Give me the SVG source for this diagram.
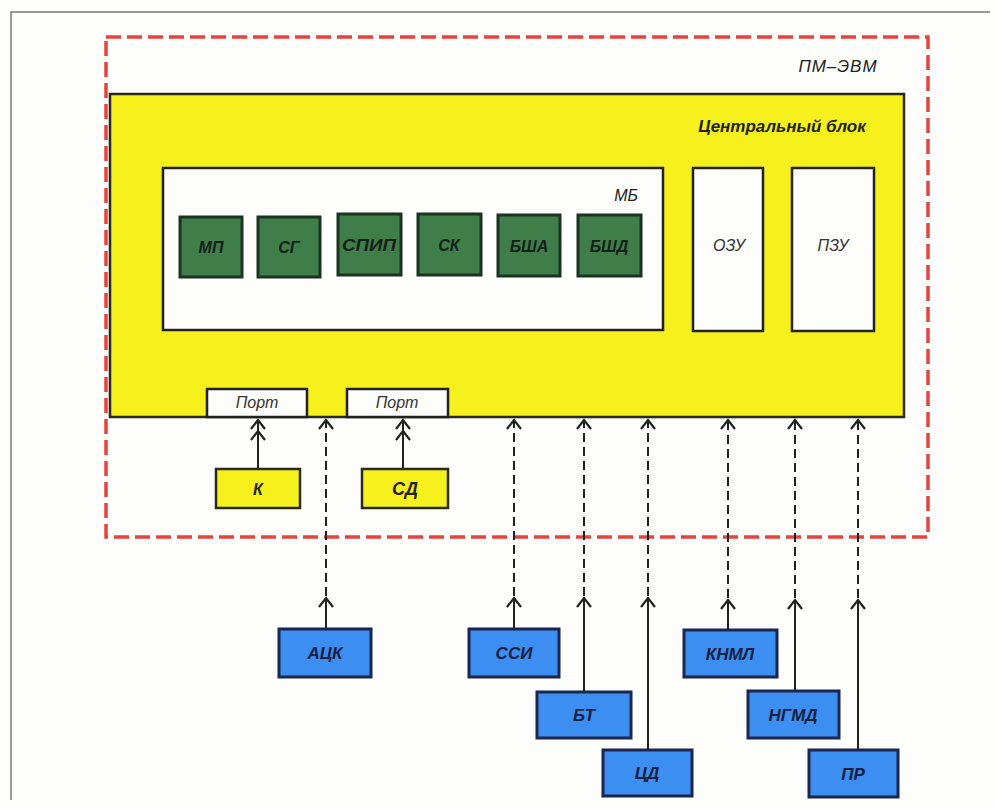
<svg xmlns="http://www.w3.org/2000/svg" width="996" height="809" viewBox="0 0 996 809">
<style>
text{font-family:"Liberation Sans",Arial,sans-serif;font-style:italic;text-anchor:middle;dominant-baseline:central}
.b{font-weight:bold}
.g rect{fill:#3f7e48;stroke:#1c3322;stroke-width:3}
.g text{font-weight:bold;font-size:16px;fill:#15201a}
.u rect{fill:#3c8ef0;stroke:#1a2650;stroke-width:3}
.u text{font-weight:bold;font-size:17px;fill:#172040}
.y rect{fill:#f6f01c;stroke:#2a2a1a;stroke-width:2.5}
.w{fill:#fdfdfb;stroke:#222;stroke-width:2.5}
.sol{stroke:#222;stroke-width:2;fill:none}
.dsh{stroke:#222;stroke-width:2;fill:none;stroke-dasharray:9 5}
</style>
<defs>
<marker id="chev" markerUnits="userSpaceOnUse" orient="auto" refX="0" refY="0" markerWidth="20" markerHeight="20" viewBox="-12 -10 20 20" overflow="visible">
<path d="M-9,-7 L0,0 L-9,7" fill="none" stroke="#222" stroke-width="2.2"/>
</marker>
</defs>
<rect width="996" height="809" fill="#fdfdfb"/>
<path d="M11,800 V12 H990" fill="none" stroke="#777" stroke-width="1.5"/>

<g id="pm-evm">
<rect x="106" y="37" width="822" height="500" fill="none" stroke="#e5433b" stroke-width="3.5" stroke-dasharray="15 6"/>
<text x="838" y="66" font-size="17" letter-spacing="1" fill="#222">ПМ–ЭВМ</text>
</g>

<g id="central" class="y">
<rect x="110" y="94" width="794" height="323"/>
<text class="b" x="782" y="126" font-size="17" fill="#222">Центральный блок</text>
</g>

<g id="mb">
<rect class="w" x="163" y="168" width="500" height="162"/>
<text x="626" y="195" font-size="16" fill="#222">МБ</text>
</g>
<g id="mp" class="g"><rect x="180" y="217" width="62" height="60"/><text x="211" y="247">МП</text></g>
<g id="sg" class="g"><rect x="258" y="217" width="62" height="60"/><text x="289" y="247">СГ</text></g>
<g id="spip" class="g"><rect x="338" y="214" width="63" height="61"/><text x="369" y="245" textLength="54" lengthAdjust="spacingAndGlyphs">СПИП</text></g>
<g id="sk" class="g"><rect x="418" y="214" width="63" height="61"/><text x="449" y="245">СК</text></g>
<g id="bsha" class="g"><rect x="498" y="215" width="62" height="61"/><text x="529" y="246">БША</text></g>
<g id="bshd" class="g"><rect x="578" y="215" width="63" height="61"/><text x="609" y="246">БШД</text></g>

<g id="ozu"><rect class="w" x="693" y="168" width="70" height="163"/><text x="729" y="245" font-size="16" fill="#333">ОЗУ</text></g>
<g id="pzu"><rect class="w" x="792" y="168" width="82" height="163"/><text x="833" y="245" font-size="16" fill="#333">ПЗУ</text></g>

<g id="port1"><rect class="w" x="207" y="389" width="100" height="28" stroke-width="2"/><text x="257" y="402" font-size="16" fill="#333">Порт</text></g>
<g id="port2"><rect class="w" x="347" y="389" width="101" height="28" stroke-width="2"/><text x="397" y="402" font-size="16" fill="#333">Порт</text></g>

<g id="k" class="y"><rect x="216" y="469" width="84" height="39"/><text class="b" x="258" y="489" font-size="16" fill="#222">К</text></g>
<g id="sd" class="y"><rect x="362" y="469" width="86" height="39"/><text class="b" x="405" y="489" font-size="18" fill="#222">СД</text></g>

<g id="ack" class="u"><rect x="279" y="629" width="92" height="48"/><text x="325" y="653">АЦК</text></g>
<g id="ssi" class="u"><rect x="469" y="629" width="90" height="48"/><text x="514" y="653">ССИ</text></g>
<g id="bt" class="u"><rect x="537" y="692" width="94" height="46"/><text x="584" y="715">БТ</text></g>
<g id="cd" class="u"><rect x="603" y="750" width="89" height="46"/><text x="647" y="773">ЦД</text></g>
<g id="knml" class="u"><rect x="684" y="630" width="93" height="47"/><text x="730" y="654">КНМЛ</text></g>
<g id="ngmd" class="u"><rect x="748" y="691" width="91" height="47"/><text x="793" y="715">НГМД</text></g>
<g id="pr" class="u"><rect x="809" y="750" width="89" height="47"/><text x="853" y="774">ПР</text></g>

<g id="connectors">
<path class="sol" d="M258,469 V431 V420" marker-mid="url(#chev)" marker-end="url(#chev)"/>
<path class="sol" d="M403,469 V431 V420" marker-mid="url(#chev)" marker-end="url(#chev)"/>
<path class="sol" d="M326,629 V598" marker-end="url(#chev)"/>
<path class="dsh" d="M326,596 V420" marker-end="url(#chev)"/>
<path class="sol" d="M514,629 V598" marker-end="url(#chev)"/>
<path class="dsh" d="M514,596 V420" marker-end="url(#chev)"/>
<path class="sol" d="M584,692 V598" marker-end="url(#chev)"/>
<path class="dsh" d="M584,596 V420" marker-end="url(#chev)"/>
<path class="sol" d="M648,750 V598" marker-end="url(#chev)"/>
<path class="dsh" d="M648,596 V420" marker-end="url(#chev)"/>
<path class="sol" d="M728,630 V600" marker-end="url(#chev)"/>
<path class="dsh" d="M728,598 V420" marker-end="url(#chev)"/>
<path class="sol" d="M795,691 V600" marker-end="url(#chev)"/>
<path class="dsh" d="M795,598 V420" marker-end="url(#chev)"/>
<path class="sol" d="M858,750 V600" marker-end="url(#chev)"/>
<path class="dsh" d="M858,598 V420" marker-end="url(#chev)"/>
</g>
</svg>
